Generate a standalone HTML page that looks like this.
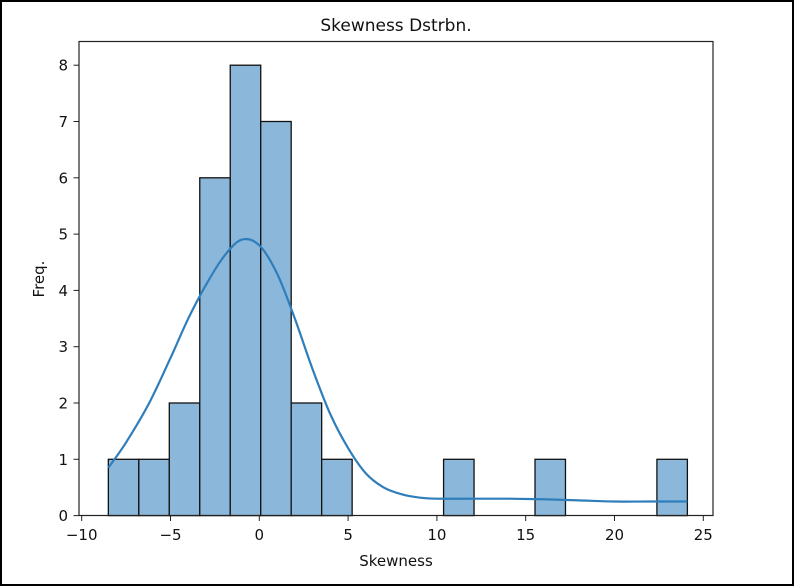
<!DOCTYPE html>
<html><head><meta charset="utf-8"><style>
html,body{margin:0;padding:0;background:#fff}
svg{display:block;font-family:"DejaVu Sans","Liberation Sans",sans-serif}
</style></head><body>
<svg id="chart" width="794" height="586" viewBox="0 0 794 586">
<rect x="1" y="1" width="792" height="584" fill="#fff" stroke="#000" stroke-width="2"/>
<text x="396" y="31" text-anchor="middle" font-size="17" fill="#111">Skewness Dstrbn.</text>
<g id="bars"></g>
<path id="kde" fill="none" stroke="#2f7ebc" stroke-width="2.2"/>
<rect x="79" y="41.5" width="634" height="474" fill="none" stroke="#222" stroke-width="1.2"/>
<g id="xticks"></g>
<g id="yticks"></g>
<text x="396" y="566" text-anchor="middle" font-size="15" fill="#111">Skewness</text>
<text transform="translate(44,279) rotate(-90)" text-anchor="middle" font-size="15" fill="#111">Freq.</text>
</svg>
<script>
const binStart = -8.5;
const binWidth = 1.716;
const counts = [1,1,2,6,8,7,2,1,0,0,0,1,0,0,1,0,0,0,1];
const kdeX = [-8.5,-7.5,-6.2,-5,-4,-3,-2,-1,0,1,2,3,4,5,6,7,8,9,10,12,14,16,18,20,22,24.1];
const kdeY = [0.85,1.3,2.0,2.8,3.5,4.1,4.6,4.9,4.8,4.3,3.5,2.6,1.8,1.2,0.75,0.5,0.38,0.32,0.3,0.3,0.3,0.29,0.27,0.25,0.25,0.25];
const xTicks = [-10,-5,0,5,10,15,20,25];
const yTicks = [0,1,2,3,4,5,6,7,8];
const NS='http://www.w3.org/2000/svg';
function sx(v){return 259.3+v*17.76;}
function sy(v){return 515.6-v*56.3;}
const bars=document.getElementById('bars');
counts.forEach((c,i)=>{
  if(!c) return;
  const r=document.createElementNS(NS,'rect');
  const x0=sx(binStart+i*binWidth), x1=sx(binStart+(i+1)*binWidth);
  r.setAttribute('x',x0);r.setAttribute('y',sy(c));
  r.setAttribute('width',x1-x0);r.setAttribute('height',sy(0)-sy(c));
  r.setAttribute('fill','#8bb8da');r.setAttribute('stroke','#111');r.setAttribute('stroke-width','1.3');
  
  
  bars.appendChild(r);
});
let pts=kdeX.map((x,i)=>[sx(x),sy(kdeY[i])]);
let d='M'+pts[0][0]+','+pts[0][1];
for(let i=0;i<pts.length-1;i++){
  const p0=pts[Math.max(0,i-1)],p1=pts[i],p2=pts[i+1],p3=pts[Math.min(pts.length-1,i+2)];
  const c1=[p1[0]+(p2[0]-p0[0])/6,p1[1]+(p2[1]-p0[1])/6];
  const c2=[p2[0]-(p3[0]-p1[0])/6,p2[1]-(p3[1]-p1[1])/6];
  d+=' C'+c1+' '+c2+' '+p2;
}
document.getElementById('kde').setAttribute('d',d);
const xg=document.getElementById('xticks');
xTicks.forEach(v=>{
  const l=document.createElementNS(NS,'line');
  l.setAttribute('x1',sx(v));l.setAttribute('x2',sx(v));l.setAttribute('y1',515.6);l.setAttribute('y2',521);l.setAttribute('stroke','#222');
  
  
  xg.appendChild(l);
  const t=document.createElementNS(NS,'text');
  t.setAttribute('x',sx(v));t.setAttribute('y',540);t.setAttribute('text-anchor','middle');t.setAttribute('font-size','15');t.setAttribute('fill','#111');
  t.textContent=v<0?'\u2212'+(-v):String(v);
  
  
  xg.appendChild(t);
});
const yg=document.getElementById('yticks');
yTicks.forEach(v=>{
  const l=document.createElementNS(NS,'line');
  l.setAttribute('x1',73.5);l.setAttribute('x2',79);l.setAttribute('y1',sy(v));l.setAttribute('y2',sy(v));l.setAttribute('stroke','#222');
  
  
  yg.appendChild(l);
  const t=document.createElementNS(NS,'text');
  t.setAttribute('x',68);t.setAttribute('y',sy(v)+5.5);t.setAttribute('text-anchor','end');t.setAttribute('font-size','15');t.setAttribute('fill','#111');
  t.textContent=String(v);
  
  
  yg.appendChild(t);
});
</script>
</body></html>
